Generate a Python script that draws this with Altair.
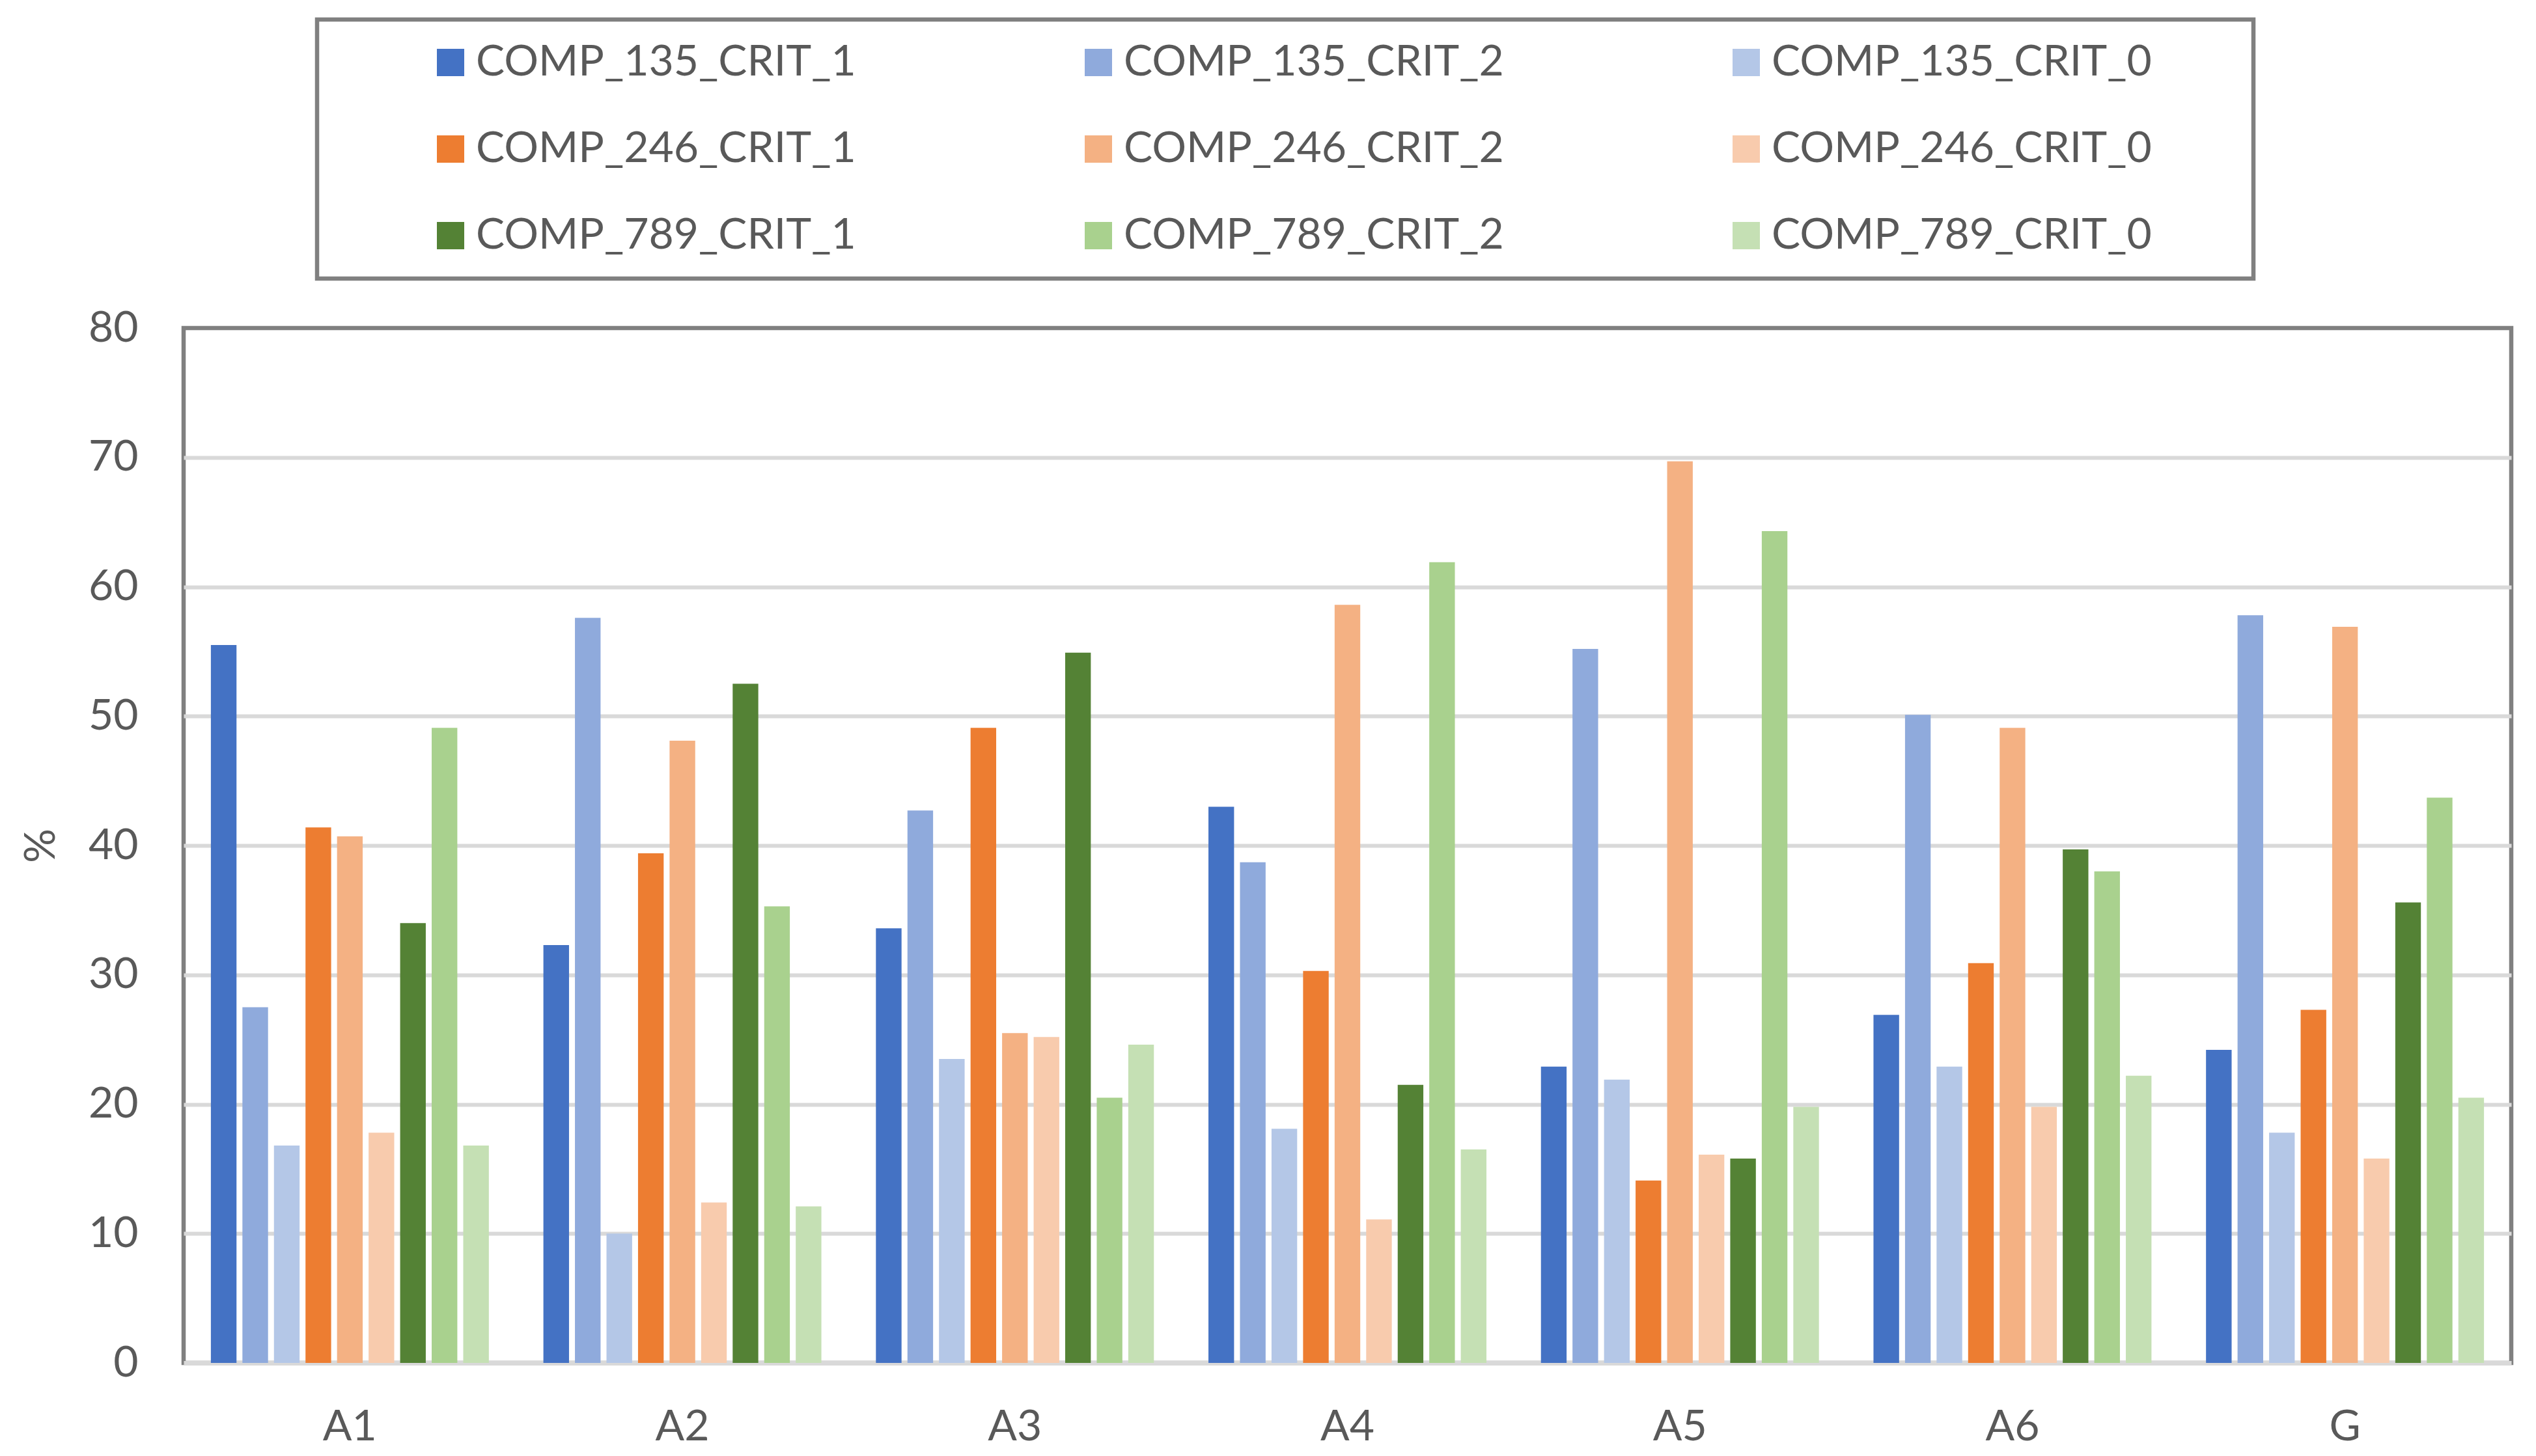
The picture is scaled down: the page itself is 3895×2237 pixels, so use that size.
import altair as alt
import pandas as pd

categories = ["A1", "A2", "A3", "A4", "A5", "A6", "G"]
series = [
    "COMP_135_CRIT_1", "COMP_135_CRIT_2", "COMP_135_CRIT_0",
    "COMP_246_CRIT_1", "COMP_246_CRIT_2", "COMP_246_CRIT_0",
    "COMP_789_CRIT_1", "COMP_789_CRIT_2", "COMP_789_CRIT_0",
]
colors = [
    "#4472C4", "#8FAADC", "#B4C7E7",
    "#ED7D31", "#F4B183", "#F8CBAD",
    "#548235", "#A9D18E", "#C5E0B4",
]

comp135_crit1 = [55.5, 32.3, 33.6, 43.0, 22.9, 26.9, 24.2]
comp135_crit2 = [27.5, 57.6, 42.7, 38.7, 55.2, 50.1, 57.8]
comp135_crit0 = [16.8, 10.0, 23.5, 18.1, 21.9, 22.9, 17.8]
comp246_crit1 = [41.4, 39.4, 49.1, 30.3, 14.1, 30.9, 27.3]
comp246_crit2 = [40.7, 48.1, 25.5, 58.6, 69.7, 49.1, 56.9]
comp246_crit0 = [17.8, 12.4, 25.2, 11.1, 16.1, 19.8, 15.8]
comp789_crit1 = [34.0, 52.5, 54.9, 21.5, 15.8, 39.7, 35.6]
comp789_crit2 = [49.1, 35.3, 20.5, 61.9, 64.3, 38.0, 43.7]
comp789_crit0 = [16.8, 12.1, 24.6, 16.5, 19.8, 22.2, 20.5]

values = [
    comp135_crit1, comp135_crit2, comp135_crit0,
    comp246_crit1, comp246_crit2, comp246_crit0,
    comp789_crit1, comp789_crit2, comp789_crit0,
]

rows = []
for s, vals in zip(series, values):
    for c, v in zip(categories, vals):
        rows.append({"cat": c, "series": s, "value": v})
df = pd.DataFrame(rows)

FONT = "Lato"
TXT = "#595959"

chart = alt.Chart(df).mark_bar().encode(
    x=alt.X(
        "cat:N", sort=categories,
        scale=alt.Scale(paddingInner=0.164, paddingOuter=0.082),
        axis=alt.Axis(
            title=None, labelAngle=0, labelFont=FONT, labelFontSize=66,
            labelColor=TXT, labelPadding=66, ticks=False,
            domainColor="#d9d9d9", domainWidth=7,
        ),
    ),
    xOffset=alt.XOffset(
        "series:N", sort=series,
        scale=alt.Scale(paddingInner=0.1875, paddingOuter=0),
    ),
    y=alt.Y(
        "value:Q",
        scale=alt.Scale(domain=[0, 80], nice=False),
        axis=alt.Axis(
            title="%", values=[0, 10, 20, 30, 40, 50, 60, 70, 80],
            labelFont=FONT, labelFontSize=66, labelColor=TXT, labelPadding=70,
            ticks=False, domain=False,
            grid=True, gridColor="#d9d9d9", gridWidth=6,
            gridOpacity={"condition": {"test": "datum.value === 80 || datum.value === 0", "value": 0}, "value": 1},
            titleFont=FONT, titleFontSize=66, titleColor=TXT, titleFontWeight="normal",
            titleX=-219, titleBaseline="middle", titleAngle=270,
        ),
    ),
    color=alt.Color(
        "series:N", sort=series,
        scale=alt.Scale(domain=series, range=colors),
        legend=alt.Legend(
            orient="none", legendX=205, legendY=-474,
            columns=3, direction="horizontal",
            title="\u00a0", titleOrient="right", titlePadding=123,
            symbolType="square", symbolSize=1764, symbolStrokeWidth=0,
            symbolOffset=139, labelOffset=6,
            labelFont=FONT, labelFontSize=66, labelColor=TXT, labelLimit=2000,
            columnPadding=200, rowPadding=67, padding=33,
            strokeColor="#808080",
        ),
    ),
).properties(
    width=3575, height=1590,
    padding={"left": 274, "top": 496, "right": 10, "bottom": 133},
    autosize=alt.AutoSizeParams(type="none"),
    background="white",
).configure_view(
    stroke="#808080", strokeWidth=6.5,
).configure_legend(
    strokeWidth=6.5,
)

chart.save("out.html", embed_options={"renderer": "svg", "actions": False})
